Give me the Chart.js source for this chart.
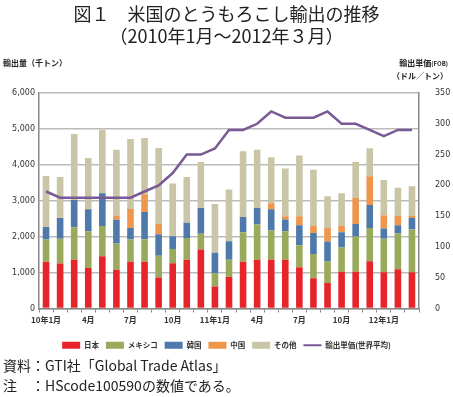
<!DOCTYPE html>
<html>
<head>
<meta charset="utf-8">
<script src="https://cdn.jsdelivr.net/npm/chart.js@4/dist/chart.umd.min.js"></script>
<style>
  body { margin: 0; background: #fff; font-family: "Noto Sans CJK JP", sans-serif; }
  #wrap { position: relative; width: 453px; height: 397px; overflow: hidden; }
  #chart { position: absolute; left: 0; top: 0; }
  .t { position: absolute; white-space: nowrap; color: #222; }
</style>
</head>
<body>
<div id="wrap">
  <canvas id="chart" width="453" height="359"></canvas>
  <div class="t" style="left:0;width:453px;text-align:center;top:2px;font-size:18px;line-height:22px;">図１　米国のとうもろこし輸出の推移<br>（2010年1月～2012年３月）</div>
  <div class="t" style="left:3px;top:57px;font-size:8px;font-weight:bold;">輸出量（千トン）</div>
  <div class="t" style="right:5px;top:57px;font-size:8px;font-weight:bold;text-align:right;line-height:12px;">輸出単価<span style="font-size:6px">(FOB)</span><br>（ドル／トン）</div>
  <div class="t" style="left:3px;top:355px;font-size:14px;line-height:20px;">資料：GTI社「Global Trade Atlas」<br>注　：HScode100590の数値である。</div>
</div>
<script>
// Month labels (only some are shown on the axis)
const months = ['10年1月', '', '', '4月', '', '', '7月', '', '', '10月', '', '',
                '11年1月', '', '', '4月', '', '', '7月', '', '', '10月', '', '',
                '12年1月', '', ''];

// Export volume by destination (thousand tonnes)
const japan  = [1300, 1250, 1360, 1130, 1455, 1080, 1305, 1305, 860, 1260, 1360, 1640, 615, 877, 1305, 1360, 1360, 1360, 1150, 840, 710, 1025, 1025, 1315, 1010, 1090, 1010];
const mexico = [620, 690, 900, 1020, 845, 730, 615, 625, 610, 400, 600, 440, 365, 483, 815, 980, 810, 790, 610, 680, 605, 675, 980, 925, 930, 1000, 1190];
const korea  = [350, 580, 760, 610, 910, 660, 320, 760, 600, 355, 430, 720, 570, 515, 430, 460, 590, 330, 560, 580, 550, 425, 345, 640, 290, 230, 320];
const china  = [0, 0, 0, 20, 0, 120, 530, 490, 290, 0, 0, 0, 0, 0, 0, 0, 170, 85, 245, 195, 375, 170, 730, 805, 365, 255, 55];
const others = [1420, 1140, 1840, 1410, 1770, 1830, 1950, 1570, 2110, 1465, 1270, 1280, 1360, 1435, 1825, 1620, 1280, 1335, 1695, 1565, 885, 915, 1000, 775, 980, 785, 830];

// Export unit price, world average (USD/t)
const price  = [190, 180, 180, 180, 180, 180, 180, 190, 200, 220, 250, 250, 260, 290, 290, 300, 320, 310, 310, 310, 320, 300, 300, 290, 280, 290, 290];

const tickFont = { family: 'DejaVu Sans', size: 8 };
const cjkFont = { family: 'Noto Sans CJK JP', size: 8, weight: 'bold' };

function bar(label, data, color) {
    return {
        type: 'bar', label: label, data: data, backgroundColor: color,
        borderWidth: 0, yAxisID: 'y', order: 1,
        barPercentage: 0.47, categoryPercentage: 1
    };
}

const ctx = document.getElementById('chart').getContext('2d');
new Chart(ctx, {
    data: {
        labels: months,
        datasets: [
            bar('日本', japan, '#e8242b'),
            bar('メキシコ', mexico, '#9aaa5c'),
            bar('韓国', korea, '#4f79aa'),
            bar('中国', china, '#f0964c'),
            bar('その他', others, '#c9c5a6'),
            {
                type: 'line', label: '輸出単価(世界平均)', data: price,
                borderColor: '#7a5a96', backgroundColor: '#7a5a96',
                borderWidth: 2.5, pointRadius: 0, tension: 0,
                yAxisID: 'y1', order: 0
            }
        ]
    },
    options: {
        responsive: false,
        animation: false,
        layout: { padding: { top: 93, left: 0, right: 0, bottom: 0 } },
        plugins: {
            tooltip: { enabled: false },
            legend: {
                position: 'bottom',
                labels: {
                    font: { family: 'Noto Sans CJK JP', size: 7.5, weight: 'bold' }, color: '#333',
                    usePointStyle: true, pointStyleWidth: 18, boxHeight: 7,
                    padding: 7,
                    sort: (a, b) => a.datasetIndex - b.datasetIndex,
                    generateLabels(chart) {
                        const items = Chart.defaults.plugins.legend.labels.generateLabels(chart);
                        items.forEach(it => {
                            const ds = chart.data.datasets[it.datasetIndex];
                            if (ds.type === 'line') {
                                it.pointStyle = 'line';
                                it.strokeStyle = ds.borderColor;
                                it.lineWidth = 2;
                            } else {
                                it.pointStyle = 'rect';
                                it.lineWidth = 0;
                            }
                        });
                        return items;
                    }
                }
            }
        },
        scales: {
            x: {
                stacked: true,
                grid: { display: true, drawOnChartArea: false, offset: true, tickLength: 4, color: '#888' },
                border: { color: '#888', width: 1.5 },
                ticks: { autoSkip: false, maxRotation: 0, font: cjkFont, color: '#333', padding: 3 },
                afterFit(scale) { scale.height = 26; }
            },
            y: {
                stacked: true, min: 0, max: 6000,
                ticks: { stepSize: 1000, font: tickFont, color: '#333', padding: 4 },
                grid: { color: '#bbb', lineWidth: 1.5, drawTicks: false },
                border: { color: '#888', width: 1.5 },
                afterFit(scale) { scale.width = 39; }
            },
            y1: {
                position: 'right', min: 0, max: 350,
                ticks: { stepSize: 50, font: tickFont, color: '#333', padding: 8 },
                grid: { display: false },
                border: { color: '#888', width: 1.5 },
                afterFit(scale) { scale.width = 34; }
            }
        }
    }
});
</script>
</body>
</html>
